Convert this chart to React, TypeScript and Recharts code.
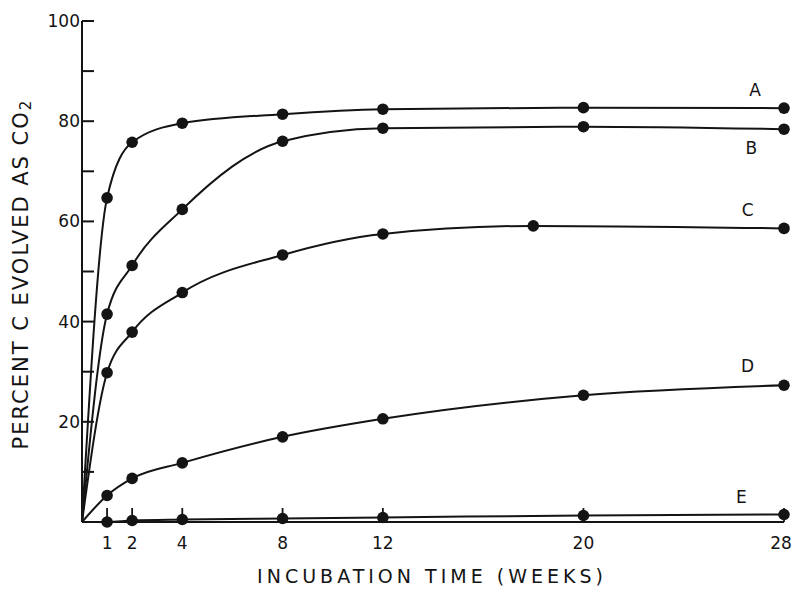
import React from 'react';
import { LineChart, Line, XAxis, YAxis, ReferenceDot } from 'recharts';

// ---- data ----
const weeksStd = [0, 1, 2, 4, 8, 12, 20, 28];
const weeksC = [0, 1, 2, 4, 8, 12, 18, 28];
const seriesA = [0, 64.7, 75.8, 79.6, 81.4, 82.4, 82.7, 82.6];
const seriesB = [0, 41.5, 51.2, 62.4, 76.0, 78.6, 78.9, 78.4];
const seriesC = [0, 29.8, 37.9, 45.8, 53.3, 57.5, 59.1, 58.6];
const seriesD = [0, 5.3, 8.7, 11.8, 17.0, 20.6, 25.3, 27.3];
const seriesE = [0, 0, 0.3, 0.5, 0.7, 0.9, 1.3, 1.5];

const xTicks = [1, 2, 4, 8, 12, 20, 28];
const yTicks = [0, 10, 20, 30, 40, 50, 60, 70, 80, 90, 100];
const yLabelled = [20, 40, 60, 80, 100];

const seriesNames = ['A', 'B', 'C', 'D', 'E'];
// label anchor points (data coordinates)
const labelX = [26.85, 26.7, 26.55, 26.55, 26.3];
const labelY = [86.2, 74.6, 62.3, 31.1, 5.0];

const build = (weeks: number[], vals: number[]) =>
  weeks.map((w, i) => ({ week: w, value: vals[i] }));

const series = [
  { name: 'A', data: build(weeksStd, seriesA) },
  { name: 'B', data: build(weeksStd, seriesB) },
  { name: 'C', data: build(weeksC, seriesC) },
  { name: 'D', data: build(weeksStd, seriesD) },
  { name: 'E', data: build(weeksStd, seriesE) },
];

const INK = '#141414';
const FONT = '"DejaVu Sans", sans-serif';

const makeDot = (name: string) => (props: any) => {
  const { cx, cy, payload, index } = props;
  if (!payload || payload.week === 0 || cx == null || cy == null) {
    return <g key={`dot-${name}-${index}`} />;
  }
  return <circle key={`dot-${name}-${index}`} cx={cx} cy={cy} r={5.8} fill={INK} stroke="none" />;
};

const YTick = (props: any) => {
  const { x, y, payload } = props;
  const v = payload.value;
  return (
    <g>
      {v !== 0 && <line x1={x} y1={y} x2={x + 12} y2={y} stroke={INK} strokeWidth={2} />}
      {yLabelled.includes(v) && (
        <text x={x - 2} y={y} textAnchor="end" dominantBaseline="central" fontSize={17} fill={INK} fontFamily={FONT}>
          {v}
        </text>
      )}
    </g>
  );
};

const XTick = (props: any) => {
  const { x, y, payload } = props;
  const last = payload.value === xTicks[xTicks.length - 1];
  return (
    <g>
      <line x1={x} y1={y} x2={x} y2={y - 14} stroke={INK} strokeWidth={1.8} />
      <text x={last ? x - 3 : x} y={y + 27} textAnchor="middle" fontSize={17} fill={INK} fontFamily={FONT}>
        {payload.value}
      </text>
    </g>
  );
};

export default function App() {
  return (
    <div style={{ width: 785, height: 580, background: '#fff' }}>
      <LineChart
        width={785}
        height={580}
        margin={{ top: 13, right: 9, left: 14, bottom: 26 }}
      >
        <XAxis
          type="number"
          dataKey="week"
          domain={[0, 28]}
          ticks={xTicks}
          interval={0}
          height={40}
          tickSize={0}
          tickMargin={0}
          tickLine={false}
          axisLine={{ stroke: INK, strokeWidth: 2 }}
          tick={<XTick />}
          allowDuplicatedCategory={false}
        />
        <YAxis
          type="number"
          domain={[0, 100]}
          ticks={yTicks}
          interval={0}
          width={60}
          tickSize={0}
          tickMargin={0}
          tickLine={false}
          axisLine={{ stroke: INK, strokeWidth: 2 }}
          tick={<YTick />}
        />
        {series.map((s) => (
          <Line
            key={s.name}
            data={s.data}
            dataKey="value"
            type="monotone"
            stroke={INK}
            strokeWidth={2}
            dot={makeDot(s.name)}
            activeDot={false}
            isAnimationActive={false}
          />
        ))}
        {seriesNames.map((n, i) => (
          <ReferenceDot
            key={`lbl-${n}`}
            x={labelX[i]}
            y={labelY[i]}
            r={0}
            fill="none"
            stroke="none"
            label={{ value: n, position: 'center', fontSize: 17, fill: INK, fontFamily: FONT }}
          />
        ))}
        <text x={424} y={575} textAnchor="middle" fontSize={19} letterSpacing={4} fill={INK} fontFamily={FONT}>
          INCUBATION TIME (WEEKS)
        </text>
        <text
          x={13}
          y={266}
          transform="rotate(-90 13 266)"
          textAnchor="middle"
          dominantBaseline="central"
          fontSize={21}
          letterSpacing={2}
          fill={INK}
          fontFamily={FONT}
        >
          PERCENT C EVOLVED AS CO<tspan fontSize={15} dy={5}>2</tspan>
        </text>
      </LineChart>
    </div>
  );
}
